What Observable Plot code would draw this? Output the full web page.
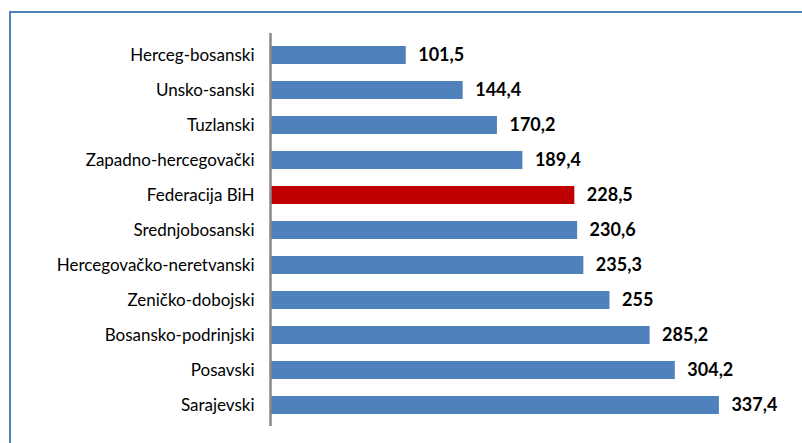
<!DOCTYPE html>
<html>
<head>
<meta charset="utf-8">
<script src="https://cdn.jsdelivr.net/npm/d3@7"></script>
<script src="https://cdn.jsdelivr.net/npm/@observablehq/plot@0.6"></script>
<style>
  html, body { margin: 0; padding: 0; background: #fff; }
  #wrap { position: relative; width: 802px; height: 443px; overflow: hidden; }
  #frame { position: absolute; left: 9px; top: 11px; width: 900px; height: 600px;
           border-left: 2px solid #4F81BD; border-top: 2px solid #4F81BD; box-sizing: border-box; }
  #chart { position: absolute; left: 0; top: 0; }
</style>
</head>
<body>
<div id="wrap"><div id="frame"></div><div id="chart"></div></div>
<script>
const categories = [
  "Herceg-bosanski",
  "Unsko-sanski",
  "Tuzlanski",
  "Zapadno-hercegovački",
  "Federacija BiH",
  "Srednjobosanski",
  "Hercegovačko-neretvanski",
  "Zeničko-dobojski",
  "Bosansko-podrinjski",
  "Posavski",
  "Sarajevski"
];
const values = [101.5, 144.4, 170.2, 189.4, 228.5, 230.6, 235.3, 255, 285.2, 304.2, 337.4];
const highlight = "Federacija BiH";

const data = categories.map((name, i) => ({name, value: values[i]}));
const fmt = v => String(v).replace(".", ",");

const chart = Plot.plot({
  width: 802,
  height: 443,
  marginLeft: 271,
  marginRight: 0,
  marginTop: 33,
  marginBottom: 17,
  style: {fontFamily: "Lato, sans-serif", fontSize: "17px", color: "#000", background: "transparent"},
  x: {domain: [0, 400], axis: null},
  y: {domain: categories, paddingInner: 0.49, paddingOuter: 0.28, label: null, tickSize: 0, tickPadding: 17},
  marks: [
    Plot.barX(data, {
      x: "value", y: "name",
      fill: d => d.name === highlight ? "#C00000" : "#4F81BD"
    }),
    Plot.ruleX([0], {stroke: "#888888", strokeWidth: 2.5, dx: -1}),
    Plot.text(data, {
      x: "value", y: "name", text: d => fmt(d.value),
      dx: 12, textAnchor: "start", fontWeight: "bold", fontSize: 18, fill: "#000"
    })
  ]
});
document.getElementById("chart").appendChild(chart);
</script>
</body>
</html>
